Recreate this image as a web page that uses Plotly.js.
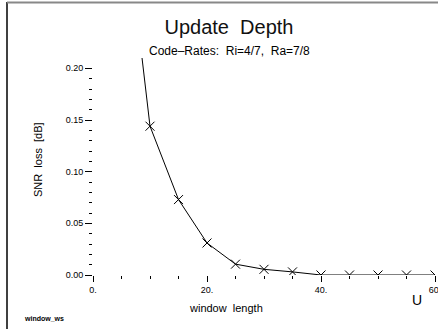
<!DOCTYPE html>
<html>
<head>
<meta charset="utf-8">
<script src="https://cdn.plot.ly/plotly-3.0.1.min.js"></script>
<style>html,body{margin:0;padding:0;background:#fff;}#chart{width:438px;height:329px;}</style>
</head>
<body>
<div id="chart"></div>
<script>
// Data
const windowLength = [5, 10, 15, 20, 25, 30, 35, 40, 45, 50, 55, 60];
const snrLoss = [0.38, 0.144, 0.073, 0.031, 0.0105, 0.0055, 0.003, 0, 0, 0, 0, 0];

const xTickVals = [0, 20, 40, 60];
const xTickText = ['0.', '20.', '40.', '60.'];
const xMinorVals = [5, 10, 15, 25, 30, 35, 45, 50, 55];
const yTickVals = [0, 0.05, 0.10, 0.15, 0.20];
const yTickText = ['0.00', '0.05', '0.10', '0.15', '0.20'];
const yMinorVals = [0.01,0.02,0.03,0.04,0.06,0.07,0.08,0.09,0.11,0.12,0.13,0.14,0.16,0.17,0.18,0.19];

const titleText = 'Update\u00a0\u00a0Depth';
const subtitleText = 'Code\u2013Rates:\u00a0\u00a0Ri=4/7,\u00a0\u00a0Ra=7/8';
const xTitleText = 'window\u00a0\u00a0length';
const yTitleText = 'SNR\u00a0\u00a0loss\u00a0\u00a0[dB]';

const W = 438, H = 329;
const M = {l: 93, r: 3, t: 58, b: 54};
const pw = W - M.l - M.r, ph = H - M.t - M.b;
const px = x => (x - M.l) / pw;
const py = y => (H - M.b - y) / ph;

const font = 'Liberation Sans, Arial, sans-serif';
const thinFont = 'DejaVu Sans ExtraLight, Liberation Sans, Arial, sans-serif';

const trace = {
  x: windowLength,
  y: snrLoss,
  type: 'scatter',
  mode: 'lines+markers',
  line: {color: '#000', width: 1},
  marker: {symbol: 'x-thin-open', size: 9, color: '#000', line: {color: '#000', width: 1}},
  cliponaxis: true,
  showlegend: false
};

const layout = {
  width: W, height: H,
  margin: M,
  paper_bgcolor: '#fff', plot_bgcolor: '#fff',
  font: {family: font, color: '#000', size: 9},
  title: {
    text: titleText,
    font: {family: thinFont, size: 20, color: '#111'},
    x: 229 / W, xref: 'container', xanchor: 'center',
    y: 1 - 27 / H, yref: 'container', yanchor: 'middle'
  },
  xaxis: {
    range: [0, 60],
    showgrid: false, zeroline: false, showline: false,
    tickmode: 'array', tickvals: xTickVals, ticktext: xTickText,
    ticks: 'outside', ticklen: 6, tickwidth: 1, tickcolor: '#000',
    ticklabeloverflow: 'allow',
    tickfont: {family: font, size: 9, color: '#000'},
    minor: {tickmode: 'array', tickvals: xMinorVals, ticks: 'outside', ticklen: 3, tickwidth: 1, tickcolor: '#000', showgrid: false},
    fixedrange: true
  },
  yaxis: {
    range: [0, 0.21],
    showgrid: false, zeroline: false, showline: false,
    tickmode: 'array', tickvals: yTickVals, ticktext: yTickText,
    ticks: 'outside', ticklen: 7, tickwidth: 1, tickcolor: '#000',
    tickfont: {family: font, size: 9, color: '#000'},
    minor: {tickmode: 'array', tickvals: yMinorVals, ticks: 'outside', ticklen: 3, tickwidth: 1, tickcolor: '#000', showgrid: false},
    fixedrange: true
  },
  annotations: [
    {text: subtitleText, xref: 'paper', yref: 'paper', x: px(229.5), y: py(51.5), xanchor: 'center', yanchor: 'middle', showarrow: false, font: {family: font, size: 12, color: '#000'}},
    {text: yTitleText, xref: 'paper', yref: 'paper', x: px(38), y: py(160), xanchor: 'center', yanchor: 'middle', textangle: -90, showarrow: false, font: {family: font, size: 11, color: '#000'}},
    {text: xTitleText, xref: 'paper', yref: 'paper', x: px(226), y: py(308), xanchor: 'center', yanchor: 'middle', showarrow: false, font: {family: font, size: 11, color: '#000'}},
    {text: 'U', xref: 'paper', yref: 'paper', x: px(417), y: py(300), xanchor: 'center', yanchor: 'middle', showarrow: false, font: {family: font, size: 14, color: '#000'}},
    {text: '<b>window_ws</b>', xref: 'paper', yref: 'paper', x: px(43.5), y: py(318), xanchor: 'center', yanchor: 'middle', showarrow: false, font: {family: font, size: 7, color: '#000'}}
  ],
  shapes: [
    {type: 'line', xref: 'paper', yref: 'paper', x0: px(7), x1: px(7), y0: py(2), y1: py(335), line: {color: '#000', width: 1.5}},
    {type: 'line', xref: 'paper', yref: 'paper', x0: px(7), x1: px(440), y0: py(2.5), y1: py(2.5), line: {color: '#888', width: 2}}
  ]
};

Plotly.newPlot('chart', [trace], layout, {staticPlot: true, displayModeBar: false});
</script>
</body>
</html>
